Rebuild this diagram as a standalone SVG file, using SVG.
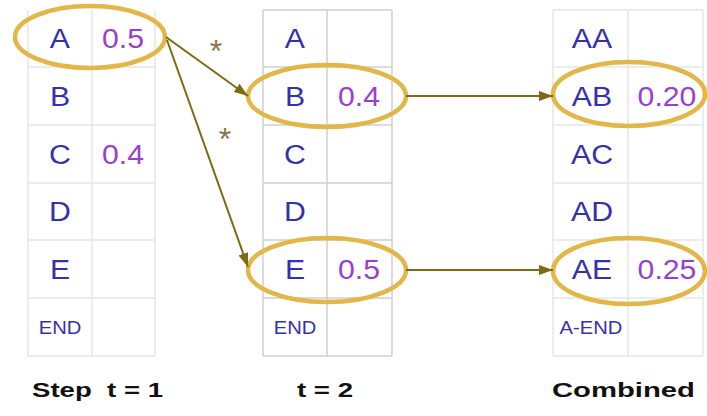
<svg xmlns="http://www.w3.org/2000/svg" width="707" height="416" viewBox="0 0 707 416">
  <defs>
    <marker id="arrow" viewBox="0 0 14 10" refX="14" refY="5" markerWidth="14" markerHeight="10" markerUnits="userSpaceOnUse" orient="auto">
      <path d="M0,0 L14,5 L0,10 Z" fill="#7d6a12"/>
    </marker>
  </defs>
  <style>
    .grid-light { fill: none; stroke: #e6e6e6; stroke-width: 1.5; }
    .grid-mid { fill: none; stroke: #cfcfcf; stroke-width: 1.5; }
    .sym, .sym-small, .prob { font-family: "Liberation Sans", Arial, sans-serif; text-anchor: middle; transform-box: fill-box; transform-origin: center; transform: scaleX(1.12); }
    .sym { font-size: 27px; fill: #3530ad; }
    .sym-small { font-size: 18px; fill: #3530ad; }
    .prob { font-size: 27px; fill: #9a3ed0; }
    .ring { fill: none; stroke: #e2b748; stroke-width: 4.5; }
    .edge { fill: none; stroke: #7d6a12; stroke-width: 2; marker-end: url(#arrow); }
    .star { font-family: "Liberation Sans", Arial, sans-serif; font-size: 32px; fill: #8a7448; text-anchor: middle; }
    .caption { font-family: "Liberation Sans", Arial, sans-serif; font-size: 21px; font-weight: bold; fill: #111; }
  </style>
  <rect width="707" height="416" fill="#fff"/>

  <!-- Step t = 1 table -->
  <g id="table-t1">
    <path class="grid-light" d="M28,10 V356 M92,10 V356 M155,10 V356 M28,67 H155 M28,125 H155 M28,183 H155 M28,240 H155 M28,298 H155 M28,356 H155"/>
    <text class="sym" x="60" y="48">A</text>
    <text class="prob" x="123" y="48">0.5</text>
    <text class="sym" x="60" y="106">B</text>
    <text class="sym" x="60" y="164">C</text>
    <text class="prob" x="123" y="164">0.4</text>
    <text class="sym" x="60" y="221">D</text>
    <text class="sym" x="60" y="279">E</text>
    <text class="sym-small" x="60" y="334">END</text>
    <ellipse id="pick-A" class="ring" cx="90" cy="37" rx="75" ry="31"/>
  </g>

  <!-- t = 2 table -->
  <g id="table-t2">
    <path class="grid-mid" d="M263,10 V356 M327,10 V356 M392,10 V356 M263,10 H392 M263,67 H392 M263,125 H392 M263,183 H392 M263,240 H392 M263,298 H392 M263,356 H392"/>
    <text class="sym" x="295" y="48">A</text>
    <text class="sym" x="295" y="106">B</text>
    <text class="prob" x="359" y="106">0.4</text>
    <text class="sym" x="295" y="164">C</text>
    <text class="sym" x="295" y="221">D</text>
    <text class="sym" x="295" y="279">E</text>
    <text class="prob" x="359" y="279">0.5</text>
    <text class="sym-small" x="295" y="334">END</text>
    <ellipse id="pick-B" class="ring" cx="327" cy="96" rx="79" ry="31"/>
    <ellipse id="pick-E" class="ring" cx="327" cy="270" rx="79" ry="32"/>
  </g>

  <!-- Combined table -->
  <g id="table-combined">
    <path class="grid-light" d="M553,10 V356 M628,10 V356 M703,10 V356 M553,10 H703 M553,67 H703 M553,125 H703 M553,183 H703 M553,240 H703 M553,298 H703 M553,356 H703"/>
    <text class="sym" x="592" y="48">AA</text>
    <text class="sym" x="592" y="106">AB</text>
    <text class="prob" x="667" y="106">0.20</text>
    <text class="sym" x="592" y="164">AC</text>
    <text class="sym" x="592" y="221">AD</text>
    <text class="sym" x="592" y="279">AE</text>
    <text class="prob" x="667" y="279">0.25</text>
    <text class="sym-small" x="591" y="334">A-END</text>
    <ellipse id="pick-AB" class="ring" cx="629" cy="94" rx="76" ry="32"/>
    <ellipse id="pick-AE" class="ring" cx="629" cy="271" rx="76" ry="33"/>
  </g>

  <!-- connectors -->
  <g id="connectors">
    <line class="edge" x1="166" y1="37" x2="248" y2="96"/>
    <line class="edge" x1="167" y1="40" x2="248" y2="267"/>
    <line class="edge" x1="406" y1="96" x2="553" y2="96"/>
    <line class="edge" x1="406" y1="270" x2="553" y2="270"/>
    <text class="star" x="216" y="62">*</text>
    <text class="star" x="225" y="150">*</text>
  </g>

  <!-- captions -->
  <g id="captions">
    <text class="caption" x="32" y="397" textLength="131" lengthAdjust="spacingAndGlyphs" xml:space="preserve">Step  t = 1</text>
    <text class="caption" x="297" y="397" textLength="56" lengthAdjust="spacingAndGlyphs">t = 2</text>
    <text class="caption" x="552" y="397" textLength="143" lengthAdjust="spacingAndGlyphs">Combined</text>
  </g>
</svg>
